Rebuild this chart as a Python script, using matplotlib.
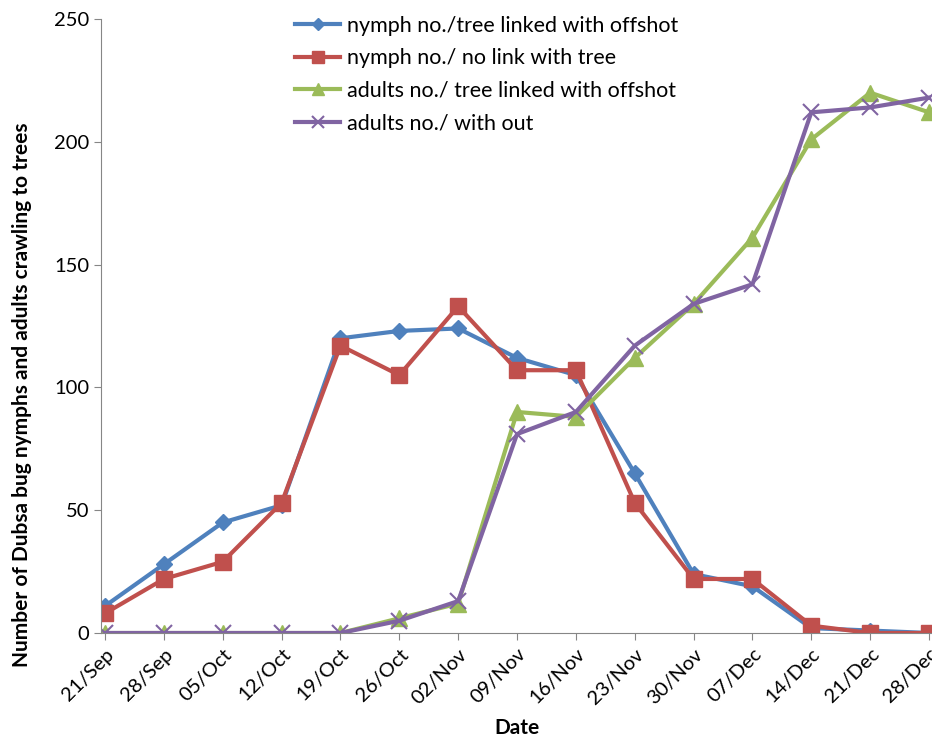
import numpy as np
import matplotlib.pyplot as plt

plt.rcParams['font.family'] = ['Lato', 'DejaVu Sans']

dates = ['21/Sep', '28/Sep', '05/Oct', '12/Oct', '19/Oct', '26/Oct', '02/Nov',
         '09/Nov', '16/Nov', '23/Nov', '30/Nov', '07/Dec', '14/Dec', '21/Dec', '28/Dec']
nymph_linked = [11, 28, 45, 52, 120, 123, 124, 112, 105, 65, 24, 19, 2, 1, 0]
nymph_nolink = [8, 22, 29, 53, 117, 105, 133, 107, 107, 53, 22, 22, 3, 0, 0]
adults_linked = [0, 0, 0, 0, 0, 6, 12, 90, 88, 112, 134, 161, 201, 220, 212]
adults_without = [0, 0, 0, 0, 0, 5, 13, 81, 90, 117, 134, 142, 212, 214, 218]

x = np.arange(len(dates))

fig = plt.figure(figsize=(9.32, 7.37), dpi=100)
ax = fig.add_axes([0.1084, 0.1411, 0.8916, 0.8331])

ax.plot(x, nymph_linked, color='#4F81BD', lw=3, marker='D', ms=8,
        label='nymph no./tree linked with offshot')
ax.plot(x, nymph_nolink, color='#C0504D', lw=3, marker='s', ms=11,
        label='nymph no./ no link with tree')
ax.plot(x, adults_linked, color='#9BBB59', lw=3, marker='^', ms=11,
        label='adults no./ tree linked with offshot')
ax.plot(x, adults_without, color='#8064A2', lw=3, marker='x', ms=11, mew=1.5,
        label='adults no./ with out')

ax.set_xlim(-0.068, 14.05)
ax.set_ylim(0, 250)
ax.set_yticks([0, 50, 100, 150, 200, 250])
ax.set_xticks(x)
ax.set_xticklabels(dates, rotation=45, ha='right', rotation_mode='anchor')
ax.tick_params(axis='both', labelsize=14.5, color='#868686', length=5)
ax.tick_params(axis='x', pad=4)

for s in ['top', 'right']:
    ax.spines[s].set_visible(False)
for s in ['left', 'bottom']:
    ax.spines[s].set_color('#868686')

ax.set_xlabel('Date', fontsize=15, fontweight='bold', labelpad=8)
ax.set_ylabel('Number of Dubsa bug nymphs and adults crawling to trees',
              fontsize=15, fontweight='bold')
ax.yaxis.set_label_coords(-0.083, 0.388)

ax.legend(loc='upper left', bbox_to_anchor=(0.296, 1.005), bbox_transform=fig.transFigure,
          frameon=False, fontsize=15.5, handlelength=2.1, handletextpad=0.3,
          labelspacing=0.58, markerscale=0.75)

fig.savefig('out.png', dpi=100)
